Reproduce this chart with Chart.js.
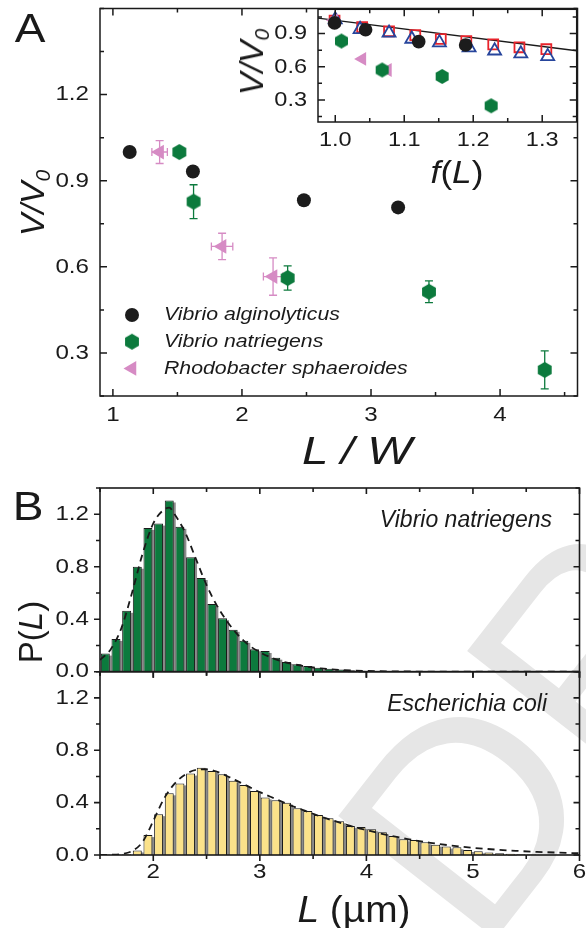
<!DOCTYPE html>
<html>
<head>
<meta charset="utf-8">
<script src="https://cdn.jsdelivr.net/npm/chart.js@4.4.1/dist/chart.umd.min.js"></script>
<style>
  body { margin: 0; background: #fff; width: 586px; height: 928px; overflow: hidden; position: relative;
         font-family: "Liberation Sans", Arial, sans-serif; color: #1a1a1a; }
  canvas { position: absolute; left: 0; top: 0; }
  .lbl { position: absolute; white-space: nowrap; line-height: 1; }
  .it { font-style: italic; }
  sub { font-size: 0.62em; vertical-align: -0.28em; line-height: 0; }
  #wm { position: absolute; left: 480px; top: 712px; font-size: 290px; line-height: 290px; color: #e6e6e6;
        transform-origin: 0 245px; transform: rotate(-52deg); white-space: nowrap; }
</style>
</head>
<body>
<div id="wm">DRAFT</div>
<canvas id="panelA" width="586" height="928"></canvas>
<canvas id="insetA" width="586" height="928"></canvas>
<canvas id="histTop" width="586" height="928"></canvas>
<canvas id="histBot" width="586" height="928"></canvas>

<div class="lbl" style="left:30px;top:28px;font-size:40px;transform:translate(-50%,-50%) scaleX(1.15)">A</div>
<div class="lbl" style="left:28px;top:506px;font-size:40px;transform:translate(-50%,-50%) scaleX(1.15)">B</div>
<div class="lbl it" style="left:32px;top:203px;font-size:34px;transform:translate(-50%,-50%) rotate(-90deg)">V/V<sub>0</sub></div>
<div class="lbl it" style="left:251px;top:62px;font-size:34px;transform:translate(-50%,-50%) rotate(-90deg)">V/V<sub>0</sub></div>
<div class="lbl" style="left:457px;top:172px;font-size:32px;transform:translate(-50%,-50%) scaleX(1.1)"><span class="it">f</span>(<span class="it">L</span>)</div>
<div class="lbl it" style="left:357px;top:451px;font-size:38px;transform:translate(-50%,-50%) scaleX(1.25)">L / W</div>
<div class="lbl" style="left:30px;top:632px;font-size:33px;transform:translate(-50%,-50%) rotate(-90deg)">P(<span class="it">L</span>)</div>
<div class="lbl" style="left:354px;top:910px;font-size:36px;transform:translate(-50%,-50%) scaleX(1.08)"><span class="it">L</span> (&micro;m)</div>
<div class="lbl it" style="left:552px;top:519px;font-size:23px;transform:translate(-100%,-50%)">Vibrio natriegens</div>
<div class="lbl it" style="left:547px;top:703px;font-size:23px;transform:translate(-100%,-50%)">Escherichia coli</div>

<script>
// ---------------- Panel A: V/V0 against L/W ----------------
const lwAlginolyticus = [1.13, 1.62, 2.48, 3.21];
const vAlginolyticus = [1.0, 0.932, 0.832, 0.807];

const lwNatriegens = [1.515, 1.625, 2.354, 3.449, 4.346];
const vNatriegens = [1.0, 0.827, 0.561, 0.513, 0.241];
const vErrNatriegens = [0, 0.059, 0.042, 0.038, 0.066];

const lwSphaeroides = [1.362, 1.846, 2.241];
const vSphaeroides = [1.0, 0.671, 0.566];
const vErrSphaeroides = [0.04, 0.046, 0.065];
const lwErrSphaeroides = [0.06, 0.083, 0.075];

const aXTicks = [1, 2, 3, 4];
const aYTicks = [0.3, 0.6, 0.9, 1.2];

// ---------------- Inset: V/V0 against f(L) ----------------
const fSquares = [0.999, 1.039, 1.078, 1.116, 1.153, 1.19, 1.229, 1.267, 1.306];
const vSquares = [1.018, 0.959, 0.921, 0.886, 0.851, 0.833, 0.803, 0.776, 0.759];
const fTriangles = [1.0, 1.036, 1.078, 1.111, 1.151, 1.194, 1.231, 1.269, 1.308];
const vTriangles = [1.027, 0.939, 0.906, 0.851, 0.818, 0.774, 0.745, 0.718, 0.694];
const fAlginolyticus = [0.999, 1.044, 1.121, 1.189];
const fvAlginolyticus = [0.997, 0.935, 0.827, 0.797];
const fNatriegens = [1.009, 1.068, 1.155, 1.226];
const fvNatriegens = [0.833, 0.571, 0.512, 0.247];
const fSphaeroides = [0.998, 1.039, 1.076];
const fvSphaeroides = [1.02, 0.671, 0.571];
const fLineX = [0.975, 1.35];
const fLineY = [1.04, 0.745];

const insetXTicks = [1.0, 1.1, 1.2, 1.3];
const insetYTicks = [0.3, 0.6, 0.9];

// ---------------- Panel B: length distributions ----------------
const binMid = [1.55, 1.65, 1.75, 1.85, 1.95,
  2.05, 2.15, 2.25, 2.35, 2.45, 2.55, 2.65, 2.75, 2.85, 2.95,
  3.05, 3.15, 3.25, 3.35, 3.45, 3.55, 3.65, 3.75, 3.85, 3.95,
  4.05, 4.15, 4.25, 4.35, 4.45, 4.55, 4.65, 4.75, 4.85, 4.95,
  5.05, 5.15, 5.25, 5.35, 5.45, 5.55, 5.65, 5.75, 5.85, 5.95];

const pNatriegens = [0.138, 0.25, 0.464, 0.80, 1.096,
  1.129, 1.305, 1.104, 0.872, 0.714, 0.515, 0.408, 0.319, 0.235, 0.171,
  0.158, 0.107, 0.074, 0.056, 0.043, 0.031, 0.022, 0.016, 0.011, 0.008,
  0.006, 0.004, 0.003, 0.002, 0.002, 0.001, 0.001, 0.001, 0, 0,
  0, 0, 0, 0, 0, 0, 0, 0, 0, 0];

const pColi = [0.004, 0.003, 0.005, 0.035, 0.152,
  0.312, 0.471, 0.547, 0.622, 0.667, 0.642, 0.616, 0.568, 0.535, 0.489,
  0.44, 0.418, 0.40, 0.357, 0.336, 0.305, 0.28, 0.258, 0.221, 0.214,
  0.196, 0.173, 0.145, 0.12, 0.115, 0.097, 0.079, 0.064, 0.059, 0.038,
  0.028, 0.02, 0.013, 0.01, 0.005, 0.003, 0.002, 0.001, 0.001, 0];

const fitNatX = [1.5, 1.6, 1.7, 1.8, 1.9, 2.0, 2.1, 2.15, 2.2, 2.3, 2.4, 2.5, 2.6, 2.7, 2.8, 2.9,
  3.0, 3.1, 3.2, 3.3, 3.4, 3.5, 3.6, 3.8, 4.0, 4.3, 4.6, 5.0, 5.5, 6.0];
const fitNatY = [0.09, 0.17, 0.33, 0.60, 0.90, 1.13, 1.235, 1.25, 1.2, 1.06, 0.86, 0.66, 0.5, 0.375, 0.275, 0.2,
  0.148, 0.11, 0.08, 0.06, 0.044, 0.032, 0.023, 0.012, 0.006, 0.002, 0.001, 0, 0, 0];

const fitColiX = [1.5, 1.6, 1.7, 1.8, 1.9, 2.0, 2.1, 2.2, 2.3, 2.4, 2.5, 2.6, 2.7, 2.8, 2.9,
  3.0, 3.1, 3.2, 3.3, 3.4, 3.5, 3.6, 3.7, 3.8, 3.9, 4.0, 4.2, 4.4, 4.6, 4.8, 5.0, 5.2, 5.4, 5.6, 5.8, 6.0];
const fitColiY = [0, 0.002, 0.008, 0.03, 0.1, 0.26, 0.43, 0.545, 0.615, 0.65, 0.655, 0.635, 0.6, 0.56, 0.52,
  0.48, 0.445, 0.41, 0.375, 0.345, 0.315, 0.285, 0.26, 0.235, 0.21, 0.19, 0.152, 0.12, 0.093, 0.072, 0.055, 0.042, 0.032, 0.024, 0.018, 0.013];

const histXTicks = [2, 3, 4, 5, 6];
const histYTicks = [0, 0.4, 0.8, 1.2];

// ---------------- colours ----------------
const INK = '#1a1a1a';
const BLACK = '#1c1c1c';
const GREEN = '#0c7a3d';
const PINK = '#d68bc4';
const RED = '#e8232b';
const BLUE = '#27459c';
const YELLOW = '#fbe28a';

Chart.defaults.font.family = '"Liberation Sans", Arial, sans-serif';
Chart.defaults.color = INK;

const pts = (xs, ys) => xs.map((x, i) => ({ x, y: ys[i] }));

// Chart.js has no hexagon point style, so build one on a small canvas
function hexagon(r, color) {
  const c = document.createElement('canvas');
  const s = Math.ceil(2 * r + 2);
  c.width = s; c.height = s;
  const g = c.getContext('2d');
  g.fillStyle = color;
  g.beginPath();
  for (let k = 0; k < 6; k++) {
    const a = Math.PI / 3 * k - Math.PI / 2;
    const px = s / 2 + r * Math.cos(a), py = s / 2 + r * Math.sin(a);
    if (k) g.lineTo(px, py); else g.moveTo(px, py);
  }
  g.closePath();
  g.fill();
  return c;
}

// Frame box, inward/outward tick marks and tick labels
const frame = {
  id: 'frame',
  beforeDraw(chart, args, o) {
    if (!o.fill) return;
    const { ctx, chartArea: a } = chart;
    ctx.save();
    ctx.fillStyle = o.fill;
    ctx.fillRect(a.left, a.top, a.right - a.left, a.bottom - a.top);
    ctx.restore();
  },
  afterDraw(chart, args, o) {
    const { ctx, chartArea: a, scales } = chart;
    const sx = scales.x, sy = scales.y;
    const marks = (scale, majors, step) => {
      const out = [];
      for (let i = Math.ceil(scale.min / step - 1e-6); i * step <= scale.max + 1e-6; i++) {
        const v = i * step;
        out.push({ p: scale.getPixelForValue(v), major: majors.some(m => Math.abs(m - v) < 1e-6) });
      }
      return out;
    };
    ctx.save();
    ctx.strokeStyle = INK;
    ctx.lineWidth = o.lineWidth;
    ctx.beginPath();
    marks(sx, o.xTicks, o.xMinor).forEach(m => {
      const len = m.major ? o.major : o.minor;
      ctx.moveTo(m.p, a.bottom); ctx.lineTo(m.p, a.bottom - o.dir.bottom * len);
      ctx.moveTo(m.p, a.top); ctx.lineTo(m.p, a.top + o.dir.top * len);
    });
    marks(sy, o.yTicks, o.yMinor).forEach(m => {
      const len = m.major ? o.major : o.minor;
      ctx.moveTo(a.left, m.p); ctx.lineTo(a.left + o.dir.left * len, m.p);
      ctx.moveTo(a.right, m.p); ctx.lineTo(a.right - o.dir.right * len, m.p);
    });
    ctx.stroke();
    ctx.strokeRect(a.left, a.top, a.right - a.left, a.bottom - a.top);

    ctx.fillStyle = INK;
    ctx.font = o.font;
    ctx.textBaseline = 'middle';
    const label = (text, x, y, align) => {
      ctx.save();
      ctx.translate(x, y);
      ctx.scale(o.stretch, 1);
      ctx.textAlign = align;
      ctx.fillText(text, 0, 0);
      ctx.restore();
    };
    if (o.xLabels) {
      o.xTicks.forEach(v => label(v.toFixed(o.xDigits), sx.getPixelForValue(v), a.bottom + o.xGap, 'center'));
    }
    o.yTicks.forEach(v => label(v.toFixed(o.yDigits), a.left - o.yGap, sy.getPixelForValue(v), 'right'));
    ctx.restore();
  }
};

// Error bars with caps, taken from dataset.xErr / dataset.yErr
const errorBars = {
  id: 'errorBars',
  beforeDatasetsDraw(chart) {
    const { ctx, scales: { x, y } } = chart;
    chart.data.datasets.forEach(ds => {
      if (!ds.xErr && !ds.yErr) return;
      ctx.save();
      ctx.strokeStyle = ds.pointBorderColor;
      ctx.lineWidth = 1.3;
      ds.data.forEach((pt, j) => {
        const px = x.getPixelForValue(pt.x), py = y.getPixelForValue(pt.y);
        const ye = ds.yErr ? ds.yErr[j] : 0;
        const xe = ds.xErr ? ds.xErr[j] : 0;
        ctx.beginPath();
        if (ye) {
          const t = y.getPixelForValue(pt.y + ye), b = y.getPixelForValue(pt.y - ye);
          ctx.moveTo(px, t); ctx.lineTo(px, b);
          ctx.moveTo(px - 4, t); ctx.lineTo(px + 4, t);
          ctx.moveTo(px - 4, b); ctx.lineTo(px + 4, b);
        }
        if (xe) {
          const l = x.getPixelForValue(pt.x - xe), r = x.getPixelForValue(pt.x + xe);
          ctx.moveTo(l, py); ctx.lineTo(r, py);
          ctx.moveTo(l, py - 4); ctx.lineTo(l, py + 4);
          ctx.moveTo(r, py - 4); ctx.lineTo(r, py + 4);
        }
        ctx.stroke();
      });
      ctx.restore();
    });
  }
};

// Legend drawn inside the plot area
const key = {
  id: 'key',
  afterDraw(chart, args, o) {
    const ctx = chart.ctx;
    chart.data.datasets.forEach((ds, i) => {
      const y = o.y + i * o.dy;
      ctx.save();
      ctx.fillStyle = ds.pointBackgroundColor;
      ctx.strokeStyle = ds.pointBorderColor;
      ctx.lineWidth = ds.pointBorderWidth;
      Chart.helpers.drawPoint(ctx, {
        pointStyle: ds.pointStyle, rotation: ds.pointRotation || 0,
        radius: ds.pointRadius, borderWidth: ds.pointBorderWidth
      }, o.x, y);
      ctx.translate(o.textX, y);
      ctx.scale(o.stretch, 1);
      ctx.fillStyle = INK;
      ctx.font = o.font;
      ctx.textBaseline = 'middle';
      ctx.fillText(ds.label, 0, 0);
      ctx.restore();
    });
  }
};

// Grey drop shadow to the right of each histogram bar
const barShadow = {
  id: 'barShadow',
  beforeDatasetsDraw(chart) {
    const ctx = chart.ctx;
    chart.data.datasets.forEach((ds, i) => {
      const meta = chart.getDatasetMeta(i);
      if (meta.type !== 'bar') return;
      ctx.save();
      ctx.fillStyle = '#8c8c8c';
      meta.data.forEach(bar => {
        const { x, y, base, width } = bar.getProps(['x', 'y', 'base', 'width'], true);
        if (base - y < 1) return;
        ctx.fillRect(x - width / 2 + 2, y + 2, width, base - y - 2);
      });
      ctx.restore();
    });
  }
};

const common = {
  responsive: false,
  devicePixelRatio: 1,
  animation: false,
  events: []
};
const noLegend = { legend: { display: false }, tooltip: { enabled: false } };

const tickFont = '21px "Liberation Sans", Arial, sans-serif';

// ---------------- Panel A ----------------
new Chart(document.getElementById('panelA'), {
  type: 'scatter',
  data: {
    datasets: [
      {
        label: 'Vibrio alginolyticus',
        data: pts(lwAlginolyticus, vAlginolyticus),
        pointStyle: 'circle', pointRadius: 7, pointBorderWidth: 0,
        pointBackgroundColor: BLACK, pointBorderColor: BLACK, order: 2
      },
      {
        label: 'Vibrio natriegens',
        data: pts(lwNatriegens, vNatriegens),
        yErr: vErrNatriegens,
        pointStyle: hexagon(8, GREEN), pointRadius: 8, pointBorderWidth: 0,
        pointBackgroundColor: GREEN, pointBorderColor: GREEN, order: 0
      },
      {
        label: 'Rhodobacter sphaeroides',
        data: pts(lwSphaeroides, vSphaeroides),
        yErr: vErrSphaeroides, xErr: lwErrSphaeroides,
        pointStyle: 'triangle', pointRotation: -90, pointRadius: 8.5, pointBorderWidth: 0,
        pointBackgroundColor: PINK, pointBorderColor: PINK, order: 1
      }
    ]
  },
  options: {
    ...common,
    layout: { padding: { left: 100, top: 7, right: 8, bottom: 532 } },
    scales: {
      x: { type: 'linear', display: false, min: 0.9, max: 4.6 },
      y: { type: 'linear', display: false, min: 0.15, max: 1.5 }
    },
    plugins: {
      ...noLegend,
      frame: {
        lineWidth: 1.5, major: 7, minor: 4,
        dir: { left: 1, right: 1, top: 1, bottom: 1 },
        xTicks: aXTicks, yTicks: aYTicks, xMinor: 0.5, yMinor: 0.15,
        xDigits: 0, yDigits: 1, xLabels: true, xGap: 19, yGap: 11,
        font: tickFont, stretch: 1.15
      },
      key: { x: 132, y: 315, dy: 26.7, textX: 164, stretch: 1.12,
             font: 'italic 19px "Liberation Sans", Arial, sans-serif' }
    }
  },
  plugins: [frame, errorBars, key]
});

// ---------------- Inset ----------------
new Chart(document.getElementById('insetA'), {
  type: 'scatter',
  data: {
    datasets: [
      {
        data: pts(fLineX, fLineY), showLine: true, borderColor: INK, borderWidth: 1.3,
        pointRadius: 0, order: 6
      },
      {
        data: pts(fSquares, vSquares), pointStyle: 'rect', pointRadius: 7,
        pointBackgroundColor: 'rgba(0,0,0,0)', pointBorderColor: RED, pointBorderWidth: 1.8, order: 5
      },
      {
        data: pts(fTriangles, vTriangles), pointStyle: 'triangle', pointRadius: 7.5,
        pointBackgroundColor: 'rgba(0,0,0,0)', pointBorderColor: BLUE, pointBorderWidth: 1.8, order: 4
      },
      {
        data: pts(fSphaeroides, fvSphaeroides), pointStyle: 'triangle', pointRotation: -90, pointRadius: 8,
        pointBackgroundColor: PINK, pointBorderColor: PINK, pointBorderWidth: 0, order: 3
      },
      {
        data: pts(fAlginolyticus, fvAlginolyticus), pointStyle: 'circle', pointRadius: 6.8,
        pointBackgroundColor: BLACK, pointBorderColor: BLACK, pointBorderWidth: 0, order: 2
      },
      {
        data: pts(fNatriegens, fvNatriegens), pointStyle: hexagon(7.5, GREEN), pointRadius: 7.5,
        pointBackgroundColor: GREEN, pointBorderColor: GREEN, pointBorderWidth: 0, order: 1
      }
    ]
  },
  options: {
    ...common,
    layout: { padding: { left: 318, top: 7, right: 8, bottom: 806 } },
    scales: {
      x: { type: 'linear', display: false, min: 0.975, max: 1.35 },
      y: { type: 'linear', display: false, min: 0.1, max: 1.12 }
    },
    plugins: {
      ...noLegend,
      frame: {
        fill: '#ffffff', lineWidth: 1.5, major: 7, minor: 4,
        dir: { left: 1, right: 1, top: 1, bottom: 1 },
        xTicks: insetXTicks, yTicks: insetYTicks, xMinor: 0.05, yMinor: 0.15,
        xDigits: 1, yDigits: 1, xLabels: true, xGap: 18, yGap: 11,
        font: tickFont, stretch: 1.12
      }
    }
  },
  plugins: [frame]
});

// ---------------- Panel B ----------------
function histogram(canvasId, values, fitX, fitY, color, top, bottom, showX) {
  return new Chart(document.getElementById(canvasId), {
    type: 'bar',
    data: {
      datasets: [
        {
          type: 'line', data: pts(fitX, fitY), borderColor: INK, borderWidth: 1.8,
          borderDash: [7, 5], pointRadius: 0, fill: false, cubicInterpolationMode: 'monotone', order: 0
        },
        {
          data: pts(binMid, values), backgroundColor: color, borderColor: INK, borderWidth: 1,
          barPercentage: 0.84, categoryPercentage: 1, order: 1
        }
      ]
    },
    options: {
      ...common,
      layout: { padding: { left: 100, top, right: 6.5, bottom: 928 - bottom } },
      scales: {
        x: { type: 'linear', display: false, offset: false, min: 1.5, max: 6 },
        y: { type: 'linear', display: false, min: 0, max: 1.4 }
      },
      plugins: {
        ...noLegend,
        frame: {
          lineWidth: 1.6, major: 6, minor: 4,
          dir: { left: -1, right: 1, top: 1, bottom: -1 },
          xTicks: histXTicks, yTicks: histYTicks, xMinor: 0.5, yMinor: 0.2,
          xDigits: 0, yDigits: 1, xLabels: showX, xGap: 17, yGap: 11,
          font: tickFont, stretch: 1.15
        }
      }
    },
    plugins: [barShadow, frame]
  });
}

histogram('histTop', pNatriegens, fitNatX, fitNatY, GREEN, 488, 671.7, false);
histogram('histBot', pColi, fitColiX, fitColiY, YELLOW, 671.7, 855, true);
</script>
</body>
</html>
